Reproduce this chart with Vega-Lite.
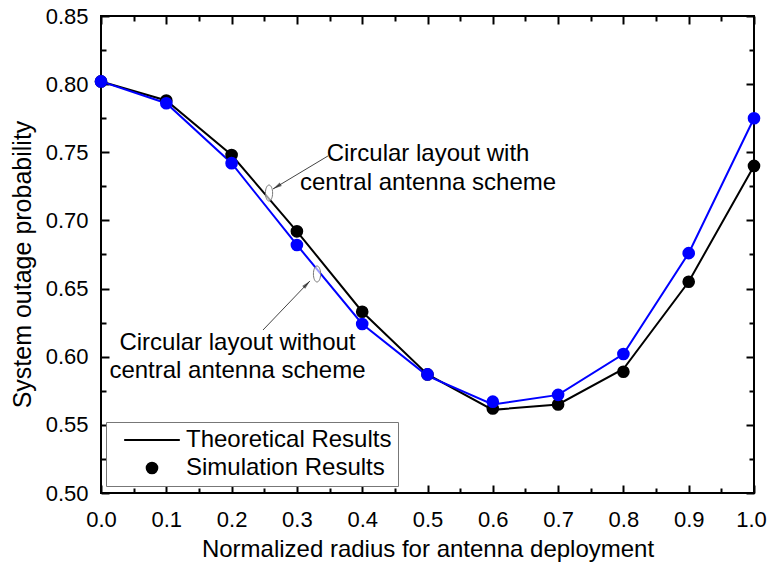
{
  "$schema": "https://vega.github.io/schema/vega-lite/v6.json",
  "width": 653,
  "height": 477,
  "autosize": {"type": "none"},
  "padding": {"left": 101, "top": 16, "right": 13, "bottom": 79},
  "background": "white",
  "config": {
    "font": "Liberation Sans",
    "view": {"stroke": "black", "strokeWidth": 2},
    "axis": {"domain": false, "grid": false, "tickColor": "black", "tickWidth": 2, "labelColor": "black", "titleColor": "black", "labelFont": "Liberation Sans", "titleFont": "Liberation Sans", "titleFontWeight": "normal"}
  },
  "datasets": {
    "results": [
      {"r": 0.0, "scheme": "with", "theory": 0.802, "sim": 0.802},
      {"r": 0.1, "scheme": "with", "theory": 0.788, "sim": 0.788},
      {"r": 0.2, "scheme": "with", "theory": 0.748, "sim": 0.748},
      {"r": 0.3, "scheme": "with", "theory": 0.692, "sim": 0.692},
      {"r": 0.4, "scheme": "with", "theory": 0.633, "sim": 0.633},
      {"r": 0.5, "scheme": "with", "theory": 0.587, "sim": 0.587},
      {"r": 0.6, "scheme": "with", "theory": 0.561, "sim": 0.562},
      {"r": 0.7, "scheme": "with", "theory": 0.565, "sim": 0.565},
      {"r": 0.8, "scheme": "with", "theory": 0.591, "sim": 0.589},
      {"r": 0.9, "scheme": "with", "theory": 0.655, "sim": 0.655},
      {"r": 1.0, "scheme": "with", "theory": 0.740, "sim": 0.740},
      {"r": 0.0, "scheme": "without", "theory": 0.802, "sim": 0.802},
      {"r": 0.1, "scheme": "without", "theory": 0.786, "sim": 0.786},
      {"r": 0.2, "scheme": "without", "theory": 0.742, "sim": 0.742},
      {"r": 0.3, "scheme": "without", "theory": 0.682, "sim": 0.682},
      {"r": 0.4, "scheme": "without", "theory": 0.624, "sim": 0.624},
      {"r": 0.5, "scheme": "without", "theory": 0.586, "sim": 0.587},
      {"r": 0.6, "scheme": "without", "theory": 0.565, "sim": 0.567},
      {"r": 0.7, "scheme": "without", "theory": 0.572, "sim": 0.572},
      {"r": 0.8, "scheme": "without", "theory": 0.602, "sim": 0.602},
      {"r": 0.9, "scheme": "without", "theory": 0.676, "sim": 0.676},
      {"r": 1.0, "scheme": "without", "theory": 0.775, "sim": 0.775}
    ],
    "legendItems": [
      {"type": "Theoretical Results"},
      {"type": "Simulation Results"}
    ],
    "anchor": [{}]
  },
  "resolve": {"axis": {"x": "independent", "y": "independent"}},
  "layer": [
    {
      "data": {"name": "results"},
      "mark": {"type": "line", "strokeWidth": 2},
      "encoding": {
        "x": {
          "field": "r", "type": "quantitative",
          "scale": {"domain": [0, 1], "nice": false, "zero": false},
          "axis": {
            "orient": "bottom",
            "values": [0, 0.05, 0.1, 0.15, 0.2, 0.25, 0.3, 0.35, 0.4, 0.45, 0.5, 0.55, 0.6, 0.65, 0.7, 0.75, 0.8, 0.85, 0.9, 0.95, 1.0],
            "tickSize": {"condition": {"test": "round(datum.value*100) % 10 === 0", "value": -8}, "value": -5},
            "labelExpr": "round(datum.value*100) % 10 === 0 ? format(datum.value, '.1f') : ''",
            "labelFlush": false,
            "labelOffset": {"condition": {"test": "datum.value >= 0.999", "value": -3}, "value": 0},
            "labelFontSize": 22,
            "labelPadding": 24,
            "title": "Normalized radius for antenna deployment",
            "titleFontSize": 24,
            "titlePadding": 7
          }
        },
        "y": {
          "field": "theory", "type": "quantitative",
          "scale": {"domain": [0.5, 0.85], "nice": false, "zero": false},
          "axis": {
            "orient": "left",
            "values": [0.5, 0.525, 0.55, 0.575, 0.6, 0.625, 0.65, 0.675, 0.7, 0.725, 0.75, 0.775, 0.8, 0.825, 0.85],
            "tickSize": {"condition": {"test": "round(datum.value*1000) % 50 === 0", "value": -8}, "value": -5},
            "labelExpr": "round(datum.value*1000) % 50 === 0 ? format(datum.value, '.2f') : ''",
            "labelFlush": false,
            "labelFontSize": 22,
            "labelPadding": 21,
            "title": "System outage probability",
            "titleFontSize": 25,
            "titlePadding": 10,
            "titleY": 248
          }
        },
        "color": {
          "field": "scheme", "type": "nominal",
          "scale": {"domain": ["with", "without"], "range": ["#000000", "#0000ff"]},
          "legend": null
        }
      }
    },
    {
      "data": {"name": "results"},
      "mark": {"type": "point", "filled": true, "size": 160, "opacity": 1},
      "encoding": {
        "x": {
          "field": "r", "type": "quantitative",
          "axis": {
            "orient": "top",
            "values": [0, 0.05, 0.1, 0.15, 0.2, 0.25, 0.3, 0.35, 0.4, 0.45, 0.5, 0.55, 0.6, 0.65, 0.7, 0.75, 0.8, 0.85, 0.9, 0.95, 1.0],
            "tickSize": {"condition": {"test": "round(datum.value*100) % 10 === 0", "value": -8}, "value": -5},
            "labels": false,
            "title": null
          }
        },
        "y": {
          "field": "sim", "type": "quantitative",
          "axis": {
            "orient": "right",
            "values": [0.5, 0.525, 0.55, 0.575, 0.6, 0.625, 0.65, 0.675, 0.7, 0.725, 0.75, 0.775, 0.8, 0.825, 0.85],
            "tickSize": {"condition": {"test": "round(datum.value*1000) % 50 === 0", "value": -8}, "value": -5},
            "labels": false,
            "title": null
          }
        },
        "color": {"field": "scheme", "type": "nominal", "legend": null}
      }
    },
    {
      "data": {"name": "legendItems"},
      "transform": [{"filter": "false"}],
      "mark": {"type": "point", "filled": true, "color": "black"},
      "encoding": {
        "shape": {
          "field": "type", "type": "nominal",
          "scale": {"domain": ["Theoretical Results", "Simulation Results"], "range": ["M-4.4,-0.14H4.4V0.14H-4.4Z", "circle"]},
          "legend": {
            "title": null,
            "orient": "none",
            "legendX": 5,
            "legendY": 406,
            "labelFontSize": 24,
            "labelFont": "Liberation Sans",
            "labelColor": "black",
            "labelLimit": 400,
            "symbolSize": 160,
            "symbolFillColor": "black",
            "symbolStrokeColor": "black",
            "symbolStrokeWidth": 0,
            "symbolOpacity": 1,
            "strokeColor": "#777777",
            "fillColor": "white",
            "padding": 6,
            "rowPadding": 4,
            "labelOffset": 22,
            "symbolOffset": 28,
            "encode": {
              "symbols": {"update": {"fill": {"value": "black"}, "strokeWidth": {"value": 0}, "opacity": {"value": 1}, "fillOpacity": {"value": 1}}}
            }
          }
        }
      }
    },
    {
      "data": {"name": "anchor"},
      "mark": {"type": "rule", "color": "#444444", "strokeWidth": 1},
      "encoding": {
        "x": {"datum": 0.3476, "type": "quantitative", "axis": null},
        "y": {"datum": 0.7473, "type": "quantitative", "axis": null},
        "x2": {"datum": 0.2634},
        "y2": {"datum": 0.7231}
      }
    },
    {
      "data": {"name": "anchor"},
      "mark": {"type": "rule", "color": "#444444", "strokeWidth": 1},
      "encoding": {
        "x": {"datum": 0.2481, "type": "quantitative", "axis": null},
        "y": {"datum": 0.6196, "type": "quantitative", "axis": null},
        "x2": {"datum": 0.320},
        "y2": {"datum": 0.6556}
      }
    },
    {
      "data": {"name": "anchor"},
      "mark": {"type": "point", "shape": "M0,0L0.45,2L-0.45,2Z", "size": 81, "filled": true, "color": "#222222", "angle": 239},
      "encoding": {
        "x": {"datum": 0.2634, "type": "quantitative", "axis": null},
        "y": {"datum": 0.7231, "type": "quantitative", "axis": null}
      }
    },
    {
      "data": {"name": "anchor"},
      "mark": {"type": "point", "shape": "M0,0L0.45,2L-0.45,2Z", "size": 81, "filled": true, "color": "#222222", "angle": 44},
      "encoding": {
        "x": {"datum": 0.320, "type": "quantitative", "axis": null},
        "y": {"datum": 0.6556, "type": "quantitative", "axis": null}
      }
    },
    {
      "data": {"name": "anchor"},
      "mark": {"type": "point", "shape": "M0,-1A0.45,1,0,1,1,0,1A0.45,1,0,1,1,0,-1Z", "size": 256, "filled": false, "color": "#777777", "strokeWidth": 1, "fill": "white", "fillOpacity": 0.6},
      "encoding": {
        "x": {"datum": 0.2573, "type": "quantitative", "axis": null},
        "y": {"datum": 0.7201, "type": "quantitative", "axis": null}
      }
    },
    {
      "data": {"name": "anchor"},
      "mark": {"type": "point", "shape": "M0,-1A0.45,1,0,1,1,0,1A0.45,1,0,1,1,0,-1Z", "size": 256, "filled": false, "color": "#777777", "strokeWidth": 1, "fill": "white", "fillOpacity": 0.6},
      "encoding": {
        "x": {"datum": 0.3308, "type": "quantitative", "axis": null},
        "y": {"datum": 0.6607, "type": "quantitative", "axis": null}
      }
    },
    {
      "data": {"name": "anchor"},
      "mark": {"type": "text", "align": "center", "baseline": "alphabetic", "fontSize": 24, "font": "Liberation Sans", "color": "black", "lineHeight": 29},
      "encoding": {
        "x": {"datum": 0.5008, "type": "quantitative", "axis": null},
        "y": {"datum": 0.7436, "type": "quantitative", "axis": null},
        "text": {"value": ["Circular layout with", "central antenna scheme"]}
      }
    },
    {
      "data": {"name": "anchor"},
      "mark": {"type": "text", "align": "center", "baseline": "alphabetic", "fontSize": 24, "font": "Liberation Sans", "color": "black", "lineHeight": 28},
      "encoding": {
        "x": {"datum": 0.209, "type": "quantitative", "axis": null},
        "y": {"datum": 0.6049, "type": "quantitative", "axis": null},
        "text": {"value": ["Circular layout without", "central antenna scheme"]}
      }
    }
  ]
}
